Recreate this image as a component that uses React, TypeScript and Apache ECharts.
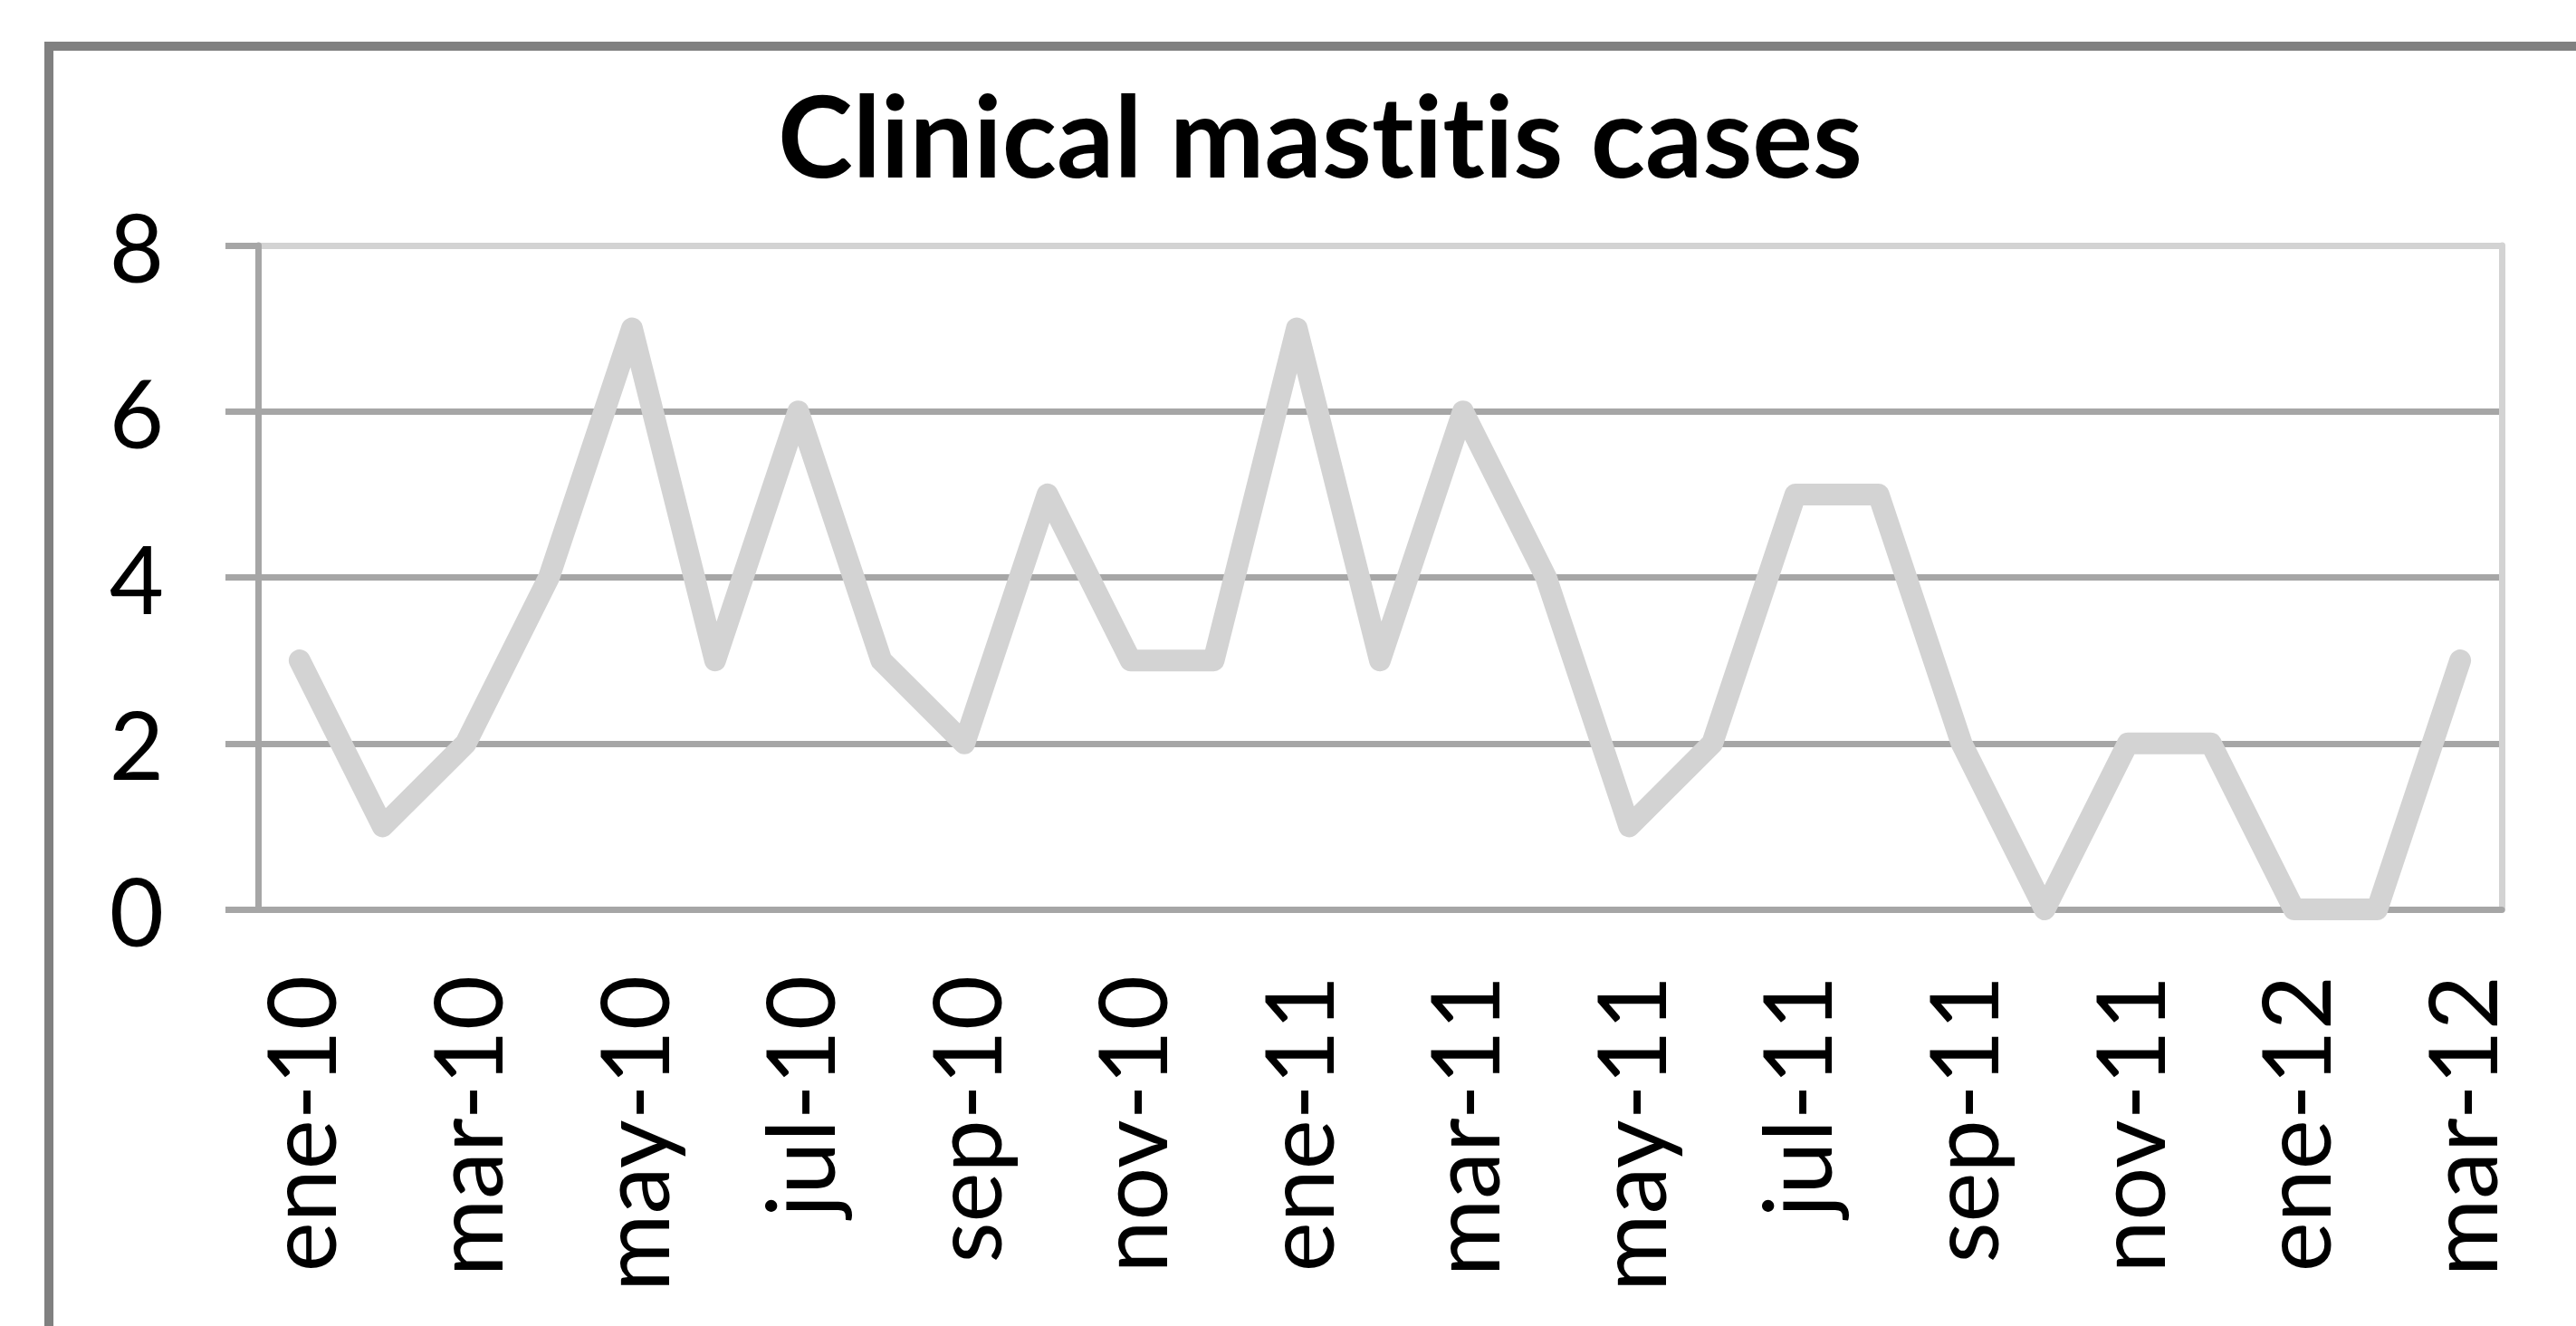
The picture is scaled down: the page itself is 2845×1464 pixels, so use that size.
import React, { useEffect, useRef } from "react";
import * as echarts from "echarts";

const months = [
  "ene-10", "feb-10", "mar-10", "abr-10", "may-10", "jun-10", "jul-10", "ago-10", "sep-10", "oct-10", "nov-10", "dic-10",
  "ene-11", "feb-11", "mar-11", "abr-11", "may-11", "jun-11", "jul-11", "ago-11", "sep-11", "oct-11", "nov-11", "dic-11",
  "ene-12", "feb-12", "mar-12",
];
const cases = [3, 1, 2, 4, 7, 3, 6, 3, 2, 5, 3, 3, 7, 3, 6, 4, 1, 2, 5, 5, 2, 0, 2, 2, 0, 0, 3];
const yTicks = { min: 0, max: 8, interval: 2 };
const titleText = "Clinical mastitis cases";

export default function App() {
  const ref = useRef<HTMLDivElement>(null);
  useEffect(() => {
    if (!ref.current) return;
    const chart = echarts.init(ref.current, undefined, { renderer: "svg" });
    const font = "Lato, 'Open Sans', sans-serif";
    chart.setOption({
      animation: false,
      backgroundColor: "#ffffff",
      graphic: [
        {
          type: "rect",
          shape: { x: 54, y: 51, width: 3200, height: 2000 },
          style: { fill: "none", stroke: "#808080", lineWidth: 10 },
          z: 0,
        },
        {
          type: "text",
          x: 1458,
          y: 148,
          style: {
            text: titleText,
            font: `bold 125px ${font}`,
            fill: "#000000",
            textAlign: "center",
            textVerticalAlign: "middle",
          },
        },
      ],
      grid: { left: 285, top: 271, width: 2478, height: 733, containLabel: false },
      xAxis: {
        type: "category",
        data: months,
        boundaryGap: true,
        axisLine: { show: true, lineStyle: { color: "#A6A6A6", width: 7 } },
        axisTick: { show: false },
        axisLabel: {
          interval: 1,
          rotate: 90,
          margin: 73,
          fontSize: 104,
          fontFamily: font,
          color: "#000000",
          padding: [0, 0, 24, 0],
        },
        splitLine: { show: false },
      },
      yAxis: [
        {
          type: "value",
          min: yTicks.min,
          max: yTicks.max,
          interval: yTicks.interval,
          axisLine: { show: true, lineStyle: { color: "#A6A6A6", width: 7 } },
          axisTick: { show: true, inside: false, length: 36, lineStyle: { color: "#A6A6A6", width: 7 } },
          axisLabel: {
            margin: 104,
            fontSize: 104,
            fontFamily: font,
            color: "#000000",
            padding: [0, 0, 30, 0],
          },
          splitLine: {
            show: true,
            lineStyle: { color: ["#A6A6A6", "#A6A6A6", "#A6A6A6", "#A6A6A6", "#D3D3D3"], width: 7 },
          },
        },
        {
          type: "value",
          position: "right",
          min: yTicks.min,
          max: yTicks.max,
          interval: yTicks.interval,
          axisLine: { show: true, lineStyle: { color: "#D3D3D3", width: 7 } },
          axisTick: { show: false },
          axisLabel: { show: false },
          splitLine: { show: false },
        },
      ],
      series: [
        {
          type: "line",
          data: cases,
          yAxisIndex: 0,
          showSymbol: false,
          symbol: "none",
          lineStyle: { color: "#D3D3D3", width: 24, cap: "round", join: "round" },
          z: 5,
        },
      ],
    });
    return () => chart.dispose();
  }, []);
  return (
    <>
      <style>
        {"svg text { font-variant-ligatures: none !important; font-feature-settings: 'liga' 0, 'clig' 0, 'dlig' 0 !important; }"}
      </style>
      <div
        ref={ref}
        style={{ position: "absolute", left: 0, top: 0, width: 2845, height: 1464, background: "#fff" }}
      />
    </>
  );
}
